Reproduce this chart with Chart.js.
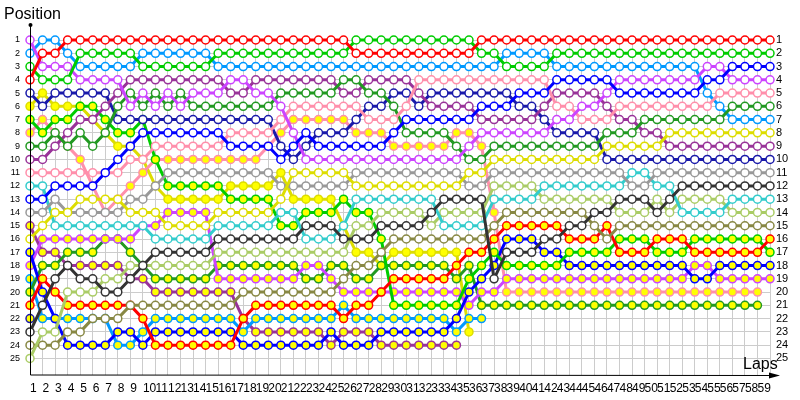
<!DOCTYPE html>
<html>
<head>
<meta charset="utf-8">
<script src="https://cdn.jsdelivr.net/npm/chart.js@4.4.1/dist/chart.umd.min.js"></script>
<style>
  html, body { margin: 0; padding: 0; background: #fff; }
</style>
</head>
<body>
<canvas id="lapChart" width="800" height="400"></canvas>
<script>
// laps (0 = grid) and positions
const laps = [0,1,2,3,4,5,6,7,8,9,10,11,12,13,14,15,16,17,18,19,20,21,22,23,24,25,26,27,28,29,
  30,31,32,33,34,35,36,37,38,39,40,41,42,43,44,45,46,47,48,49,50,51,52,53,54,55,56,57,58,59];
const positions = [1,2,3,4,5,6,7,8,9,10,11,12,13,14,15,16,17,18,19,20,21,22,23,24,25];

// position of each car after every lap (missing = retired)
const red = [4,2,2,1,1,1,1,1,1,1, 1,1,1,1,1,1,1,1,1,1, 1,1,1,1,1,1,2,2,2,2, 2,2,2,2,2,2,1,1,1,1, 1,1,1,1,1,1,1,1,1,1, 1,1,1,1,1,1,1,1,1,1];
const green = [3,4,4,4,2,2,2,2,2,3, 3,3,3,3,3,2,2,2,2,2, 2,2,2,2,2,2,1,1,1,1, 1,1,1,1,1,1,2,2,3,3, 3,3,2,2,2,2,2,2,2,2, 2,2,2,2,2,2,2,2,2,2];
const blue = [13,13,12,12,12,12,11,10,9,8, 8,8,8,8,8,8,9,9,9,9, 10,9,8,9,9,9,9,9,9,8, 7,7,7,7,7,7,6,6,6,5, 5,5,4,4,4,4,4,5,5,5, 5,5,5,5,4,4,3,3,3,3];
const violet = [1,3,3,3,4,4,4,4,6,5, 6,5,6,5,5,5,4,4,5,5, 6,8,10,10,10,10,10,10,10,10, 10,10,10,10,10,9,8,8,8,8, 8,8,7,7,6,6,5,4,4,4, 4,4,4,4,3,3,4,4,4,4];
const pink = [11,11,11,11,11,11,11,11,10,10, 9,9,9,9,9,9,8,8,8,8, 7,6,6,6,6,6,6,7,7,7, 6,4,4,4,4,4,4,4,4,4, 4,4,6,6,7,7,7,6,6,6, 6,6,6,6,6,5,5,5,5,5];
const darkGreen = [9,9,8,9,8,9,8,6,5,6, 5,6,5,6,6,6,6,6,6,6, 5,5,5,5,5,4,4,5,5,6, 8,8,8,8,9,10,10,9,9,9, 9,9,9,9,9,9,8,8,8,7, 7,7,7,7,7,7,6,6,6,6];
const lightBlue = [2,1,1,2,3,3,3,3,3,2, 2,2,2,2,2,3,3,3,3,3, 3,3,3,3,3,3,3,3,3,3, 3,3,3,3,3,3,3,3,2,2, 2,2,3,3,3,3,3,3,3,3, 3,3,3,3,5,6,7,7,7,7];
const yellow = [16,15,14,14,13,13,13,13,14,14, 14,15,15,15,15,14,14,14,14,14, 13,11,11,11,11,11,12,12,12,12, 12,12,12,12,12,11,11,10,10,10, 10,10,10,10,10,10,9,9,9,9, 9,8,8,8,8,8,8,8,8,8];
const purple = [10,10,9,8,7,7,6,5,4,4, 4,4,4,4,4,4,5,5,4,4, 4,4,4,4,4,5,5,4,4,4, 4,5,6,6,6,6,7,7,7,7, 7,6,5,5,5,5,6,7,7,8, 8,9,9,9,9,9,9,9,9,9];
const darkBlue = [5,6,5,5,5,5,5,7,7,7, 7,7,7,7,7,7,7,7,7,7, 9,10,9,8,8,8,7,6,6,5, 5,6,5,5,5,5,5,5,5,6, 6,7,8,8,8,8,10,10,10,10, 10,10,10,10,10,10,10,10,10,10];
const gray = [14,14,13,14,14,14,14,14,13,13, 12,11,11,11,11,11,11,11,11,11, 12,12,12,12,12,12,11,11,11,11, 11,11,11,11,11,12,12,11,11,11, 11,11,11,11,11,11,11,11,12,12, 11,11,11,11,11,11,11,11,11,11];
const darkGray = [23,21,19,18,19,19,20,20,19,18, 17,17,17,17,17,16,16,16,16,16, 16,16,15,15,15,16,16,16,15,15, 15,15,14,13,13,13,13,19,17,17, 17,16,16,15,15,14,14,13,13,13, 14,13,12,12,12,12,12,12,12,12];
const cyan = [12,12,15,15,15,15,15,15,15,15, 16,16,16,16,16,15,15,15,15,15, 14,14,16,16,16,15,13,13,13,13, 13,13,13,15,15,15,15,13,13,13, 13,12,12,12,12,12,12,12,11,11, 12,12,14,14,14,14,13,13,13,13];
const lightOlive = [25,23,23,20,20,20,19,19,18,18, 18,18,18,18,18,17,17,17,17,17, 17,17,17,17,17,17,15,15,14,14, 14,14,15,14,14,14,14,12,12,12, 12,13,13,13,13,13,13,14,14,14, 13,14,13,13,13,13,14,14,14,14];
const olive = [24,24,24,23,23,22,22,22,21,21, 21,21,21,21,21,21,21,20,20,20, 20,20,20,20,20,19,18,18,17,16, 16,16,16,16,16,16,16,15,14,14, 14,14,14,14,14,15,16,15,15,15, 15,15,15,15,15,15,15,15,15,15];

const redB = [21,19,20,21,21,21,21,21,21,22, 24,24,24,24,24,24,24,22,21,21, 21,21,21,21,21,22,21,21,20,19, 19,19,19,19,18,17,17,16,15,15, 15,15,15,16,16,16,15,17,17,17, 16,16,16,17,17,17,17,17,17,16];
const greenB = [7,8,7,7,6,6,7,8,8,7, 10,12,12,12,12,12,13,13,13,13, 15,15,14,14,14,13,14,14,16,21, 21,21,21,21,21,19,18,17,18,18, 18,18,18,17,17,17,17,16,16,16, 17,17,17,16,16,16,16,16,16,17];
const blueB = [17,20,22,24,24,24,24,23,23,24, 23,23,23,23,23,23,23,24,24,24, 24,24,24,24,23,24,24,24,23,23, 23,23,23,23,22,20,19,18,16,16, 16,17,17,18,18,18,18,18,18,18, 18,18,18,19,19,18,18,18,18,18];
const violetB = [18,16,16,16,16,16,16,16,16,15, 15,14,14,14,14,19,19,19,19,19, 19,19,18,18,19,20,20,20,20,20, 20,20,20,20,20,21,20,20,19,19, 19,19,19,19,19,19,19,19,19,19, 19,19,19,18,18,19,19,19,19,19];
const pinkB = [8,7,8,9,10,12,14,13,12,11, 10,10,10,10,10,10,10,10,10,9, 8,7,7,7,7,7,8,8,8,9, 9,9,9,9,8,8,9,14,20,20, 20,20,20,20,20,20,20,20,20,20, 20,20,20,20,20,20,20,20,20];
const darkGreenB = [20,18,18,17,17,17,16,16,17,18, 19,19,19,19,19,18,18,18,18,18, 18,18,19,19,18,18,19,19,18,18, 18,18,18,18,19,18,21,21,21,21, 21,21,21,21,21,21,21,21,21,21, 21,21,21,21,21,21,21,21,21];
const lightBlueB = [19,22,22,22,22,22,22,24,24,23, 22,22,22,22,22,22,22,23,22,22, 22,22,22,22,22,21,22,22,22,22, 22,22,22,22,23,22,22];
const yellowB = [6,5,6,6,6,7,8,9,9,10, 12,13,13,13,13,13,12,12,12,12, 11,13,13,13,13,15,17,17,18,17, 17,17,17,17,17,23];
const purpleB = [15,17,17,18,18,18,18,18,19,19, 20,20,20,20,20,20,20,22,23,23, 23,23,23,23,24,23,23,23,24,24, 24,24,24,24,24];
const darkBlueB = [22];

const cars = [
  {data: red, color: '#ff0000', lapped: false},
  {data: green, color: '#00cc00', lapped: false},
  {data: blue, color: '#0000ff', lapped: false},
  {data: violet, color: '#cc44ff', lapped: false},
  {data: pink, color: '#ff8fab', lapped: false},
  {data: darkGreen, color: '#229922', lapped: false},
  {data: lightBlue, color: '#0099ff', lapped: false},
  {data: yellow, color: '#dddd00', lapped: false},
  {data: purple, color: '#993399', lapped: false},
  {data: darkBlue, color: '#1a1aaa', lapped: false},
  {data: gray, color: '#999999', lapped: false},
  {data: darkGray, color: '#333333', lapped: false},
  {data: cyan, color: '#33cccc', lapped: false},
  {data: lightOlive, color: '#aacc66', lapped: false},
  {data: olive, color: '#888844', lapped: false},
  {data: redB, color: '#ff0000', lapped: true},
  {data: greenB, color: '#00cc00', lapped: true},
  {data: blueB, color: '#0000ff', lapped: true},
  {data: violetB, color: '#cc44ff', lapped: true},
  {data: pinkB, color: '#ff8fab', lapped: true},
  {data: darkGreenB, color: '#229922', lapped: true},
  {data: lightBlueB, color: '#0099ff', lapped: true},
  {data: yellowB, color: '#dddd00', lapped: true},
  {data: purpleB, color: '#993399', lapped: true},
  {data: darkBlueB, color: '#1a1aaa', lapped: true}
];

const datasets = cars.map(c => ({
  data: c.data.map((p, i) => ({x: laps[i], y: p})),
  borderColor: c.color,
  borderWidth: 3,
  pointRadius: 4,
  pointBorderWidth: 1.5,
  pointBorderColor: c.color,
  pointBackgroundColor: c.lapped ? '#ffff00' : '#ffffff',
  fill: false,
  clip: false
}));

// axis lines, arrow and titles
const decorations = {
  id: 'decorations',
  afterDraw(chart) {
    const ctx = chart.ctx;
    const a = chart.chartArea;
    ctx.save();
    ctx.strokeStyle = '#000';
    ctx.fillStyle = '#000';
    ctx.lineWidth = 1;
    ctx.beginPath();
    ctx.moveTo(a.left + 0.5, 25);
    ctx.lineTo(a.left + 0.5, a.bottom);
    ctx.lineTo(778, a.bottom + 0.5);
    ctx.stroke();
    ctx.beginPath();
    ctx.arc(a.left + 0.5, 25, 2, 0, Math.PI * 2);
    ctx.fill();
    ctx.beginPath();
    ctx.moveTo(780, a.bottom + 0.5);
    ctx.lineTo(769, a.bottom - 2.5);
    ctx.lineTo(769, a.bottom + 3.5);
    ctx.closePath();
    ctx.fill();
    ctx.font = '16px "Liberation Sans", sans-serif';
    ctx.textBaseline = 'middle';
    ctx.fillText('Position', 4, 15);
    ctx.fillText('Laps', 743, 365);
    ctx.restore();
  }
};

new Chart(document.getElementById('lapChart').getContext('2d'), {
  type: 'line',
  data: {datasets: datasets},
  plugins: [decorations],
  options: {
    responsive: false,
    animation: false,
    layout: {padding: {top: 40, left: 0, right: 0, bottom: 0}},
    plugins: {legend: {display: false}, tooltip: {enabled: false}},
    scales: {
      x: {
        type: 'linear',
        min: 0,
        max: 59,
        afterFit: s => { s.height = 25; },
        afterBuildTicks: s => { s.ticks = laps.map(v => ({value: v})); },
        border: {display: false},
        grid: {color: '#cccccc', drawTicks: false},
        ticks: {
          autoSkip: false,
          maxRotation: 0,
          minRotation: 0,
          align: 'start',
          padding: 6,
          color: '#000',
          font: {family: '"Liberation Sans", sans-serif', size: 12},
          callback: v => (v < 59 ? String(v + 1) : '')
        }
      },
      y: {
        type: 'linear',
        position: 'left',
        reverse: true,
        min: 1,
        max: 26.25,
        afterFit: s => { s.width = 30; },
        afterBuildTicks: s => { s.ticks = positions.map(v => ({value: v})); },
        border: {display: false},
        grid: {color: '#cccccc', drawTicks: false},
        ticks: {autoSkip: false, padding: 10, color: '#000', font: {family: '"Liberation Sans", sans-serif', size: 9}}
      },
      y2: {
        type: 'linear',
        position: 'right',
        reverse: true,
        min: 1,
        max: 26.25,
        afterFit: s => { s.width = 30; },
        afterBuildTicks: s => { s.ticks = positions.map(v => ({value: v})); },
        border: {display: false},
        grid: {display: false, drawTicks: false},
        ticks: {autoSkip: false, padding: 6, color: '#000', font: {family: '"Liberation Sans", sans-serif', size: 11}}
      }
    }
  }
});
</script>
</body>
</html>
